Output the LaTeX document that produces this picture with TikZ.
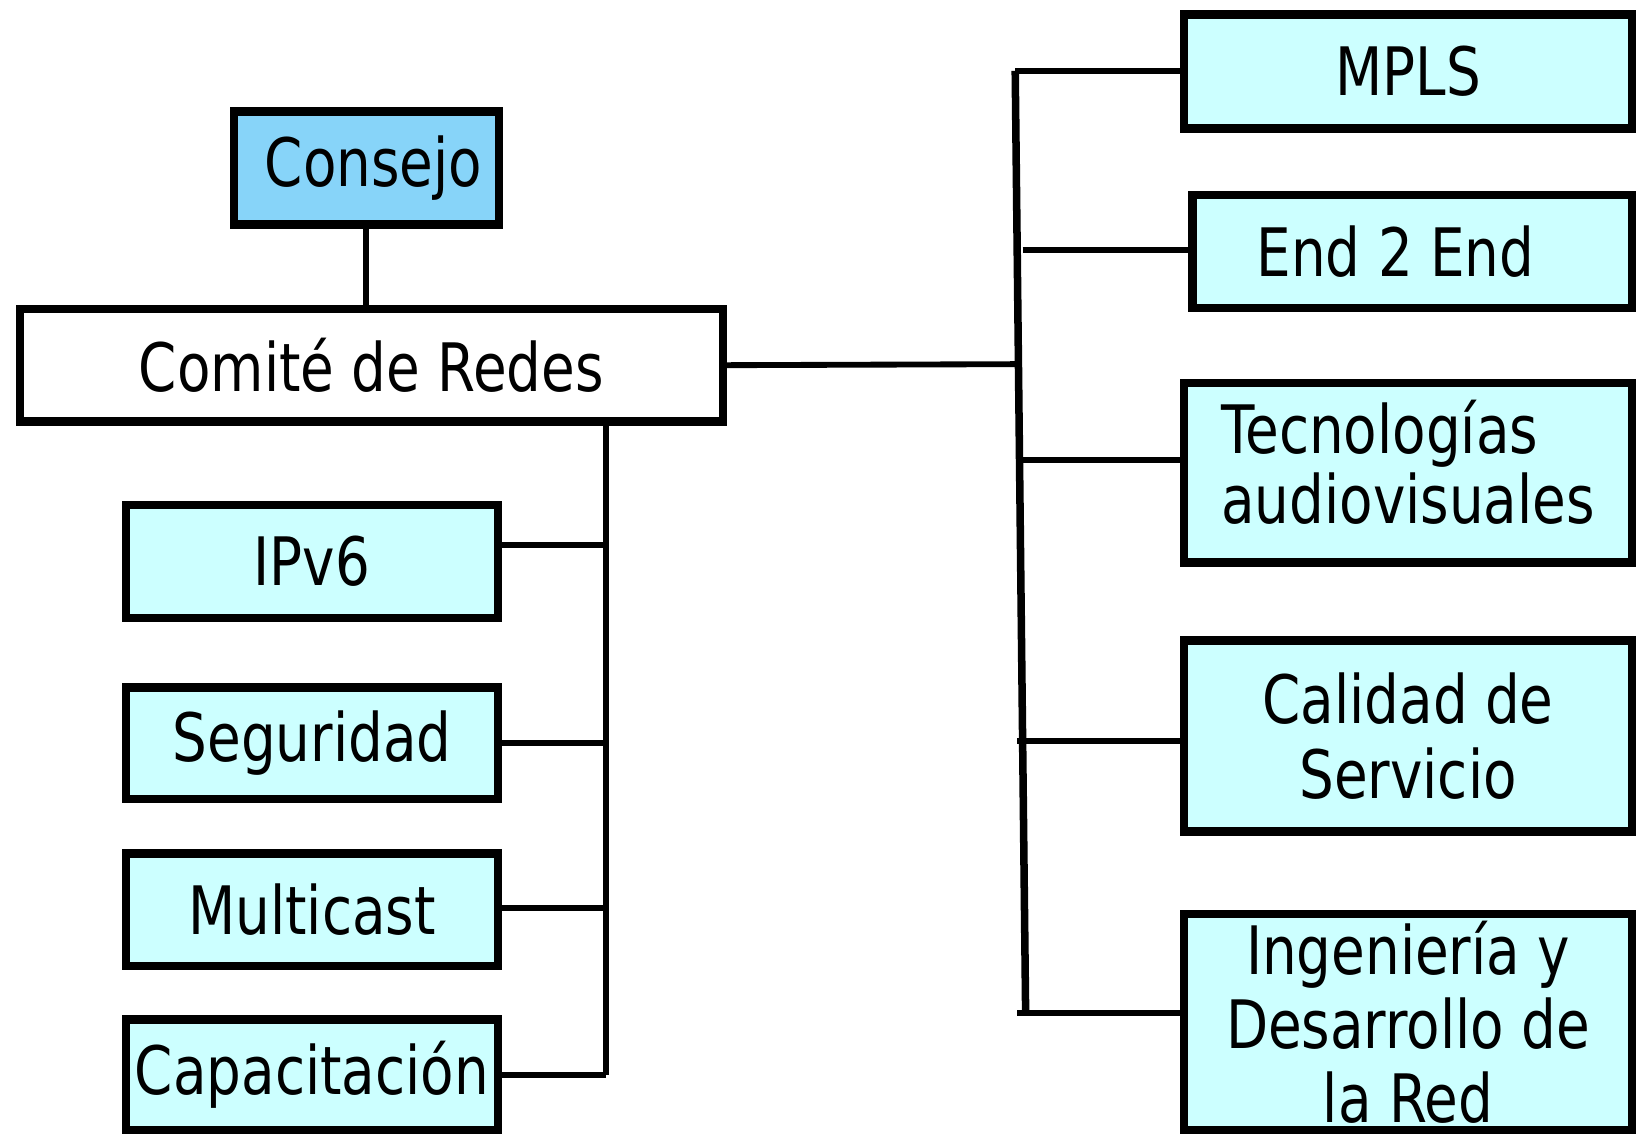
\documentclass[tikz,border=0pt]{standalone}
\usepackage{fontspec}
\setmainfont{DejaVu Sans}[FakeStretch=0.82]
\definecolor{groupcyan}{HTML}{CCFFFF}
\definecolor{councilblue}{HTML}{87D4F9}
\begin{document}
\begin{tikzpicture}[x=0.5pt,y=-0.5pt,
  box/.style={draw=black,line width=4pt,fill=groupcyan,inner sep=0pt,
    font=\fontsize{32}{35.5}\selectfont,align=center},
  bsize/.style n args={2}{minimum width=#1*0.5pt,minimum height=#2*0.5pt},
  link/.style={line width=2.8pt},
  bus/.style={line width=3.6pt}]
\useasboundingbox (0,0) rectangle (1568,1087);
\clip (0,0) rectangle (1568,1087);

% top of the hierarchy
\node[box,fill=councilblue,bsize={254}{108}] (consejo) at (351,161) {\hspace*{7pt}Consejo};
\node[box,fill=white,bsize={674}{108}] (comite) at (356,350) {Comité de Redes};

% left-hand working groups
\node[box,bsize={356}{108}] (ipv6) at (299,538) {IPv6};
\node[box,bsize={356}{107}] (seg) at (299,712.5) {Seguridad};
\node[box,bsize={356}{108}] (multi) at (299,872) {Multicast};
\node[box,bsize={356}{106}] (capa) at (299,1030) {Capacitación};

% right-hand working groups
\node[box,bsize={429}{109}] (mpls) at (1349.5,68.5) {MPLS};
\node[box,bsize={421}{108}] (e2e) at (1353.5,241) {End 2 End\hspace*{16pt}};
\node[box,bsize={429}{172}] (tec) at (1349.5,453) {\begin{tabular}{@{}l@{}}Tecnologías\\[-2pt]audiovisuales\end{tabular}};
\node[box,bsize={429}{183}] (cal) at (1349.5,705.5) {Calidad de\\Servicio};
\node[box,bsize={429}{207}] (ing) at (1349.5,979.5) {Ingeniería y\\Desarrollo de\\la Red};

% Consejo to Comité
\draw[link] (consejo.south) -- (consejo.south |- comite.north);

% left bus
\coordinate (lbt) at (581,408);
\coordinate (l1) at (581,522);
\coordinate (l2) at (581,712);
\coordinate (l3) at (581,870);
\coordinate (l4) at (581,1030);
\draw[link] (lbt) -- (l4);
\draw[link] (l1 -| ipv6.east) -- (l1);
\draw[link] (l2 -| seg.east) -- (l2);
\draw[link] (l3 -| multi.east) -- (l3);
\draw[link] (l4 -| capa.east) -- (l4);

% right bus
\coordinate (rj) at (976,349);
\coordinate (rtop) at (973,68);
\coordinate (rbot) at (983,971);
\coordinate (r2) at (980,240);
\coordinate (r3) at (978,441);
\coordinate (r4) at (975,710);
\coordinate (r5) at (975,971);
\draw[link] (comite.east) -- (rj);
\draw[bus] (rtop) -- (rbot);
\draw[link] (rtop) -- (rtop -| mpls.west);
\draw[link] (r2) -- (r2 -| e2e.west);
\draw[link] (r3) -- (r3 -| tec.west);
\draw[link] (r4) -- (r4 -| cal.west);
\draw[link] (r5) -- (r5 -| ing.west);
\end{tikzpicture}
\end{document}
